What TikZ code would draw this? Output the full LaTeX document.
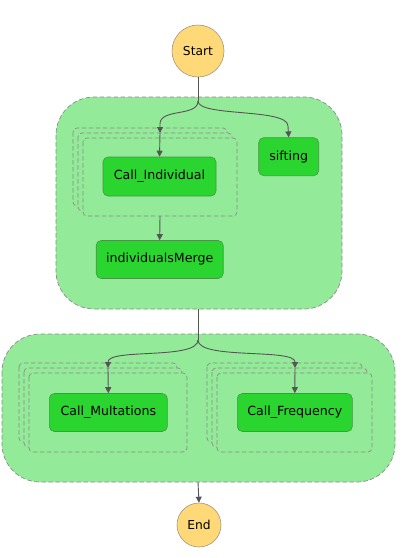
\documentclass[tikz,border=0pt]{standalone}
\usepackage{fontspec}
\setmainfont{DejaVu Sans}
\usetikzlibrary{arrows.meta}
\definecolor{contfill}{RGB}{147,234,152}
\definecolor{taskfill}{RGB}{42,213,48}
\definecolor{taskdraw}{RGB}{70,150,70}
\definecolor{termfill}{RGB}{255,217,120}
\definecolor{termdraw}{RGB}{160,150,130}
\definecolor{dashgray}{RGB}{140,140,140}
\definecolor{linegray}{RGB}{85,85,85}
\tikzset{
  container/.style={draw=dashgray, fill=contfill, dash pattern=on 4.5pt off 2.5pt, line width=0.7pt, rounded corners=38pt},
  mapframe/.style={draw=dashgray, fill=contfill, dash pattern=on 4.5pt off 2.5pt, line width=0.7pt, rounded corners=4pt},
  task/.style={draw=taskdraw, fill=taskfill, rounded corners=5pt, line width=0.6pt, font=\fontsize{12.6}{14}\selectfont, inner sep=0pt},
  term/.style={circle, draw=termdraw, fill=termfill, line width=0.6pt, font=\fontsize{12.3}{14}\selectfont, inner sep=0pt},
  conn/.style={draw=linegray, line width=0.9pt},
  arr/.style={conn, -{Triangle[length=6pt,width=6pt]}},
}
\begin{document}
\begin{tikzpicture}[x=1pt,y=-1pt]
\useasboundingbox (0,0) rectangle (402,558);
% upper parallel container
\draw[container] (56,97) rectangle (342,309);
\coordinate (uptop) at (198,97);
\coordinate (upbot) at (198,309);
% map frames upper
\draw[mapframe] (73,128) rectangle (227,206);
\draw[mapframe] (78,133) rectangle (232,211);
\draw[mapframe] (83,138) rectangle (237,216);
\coordinate (m1top) at (160,133);
\coordinate (m1bot) at (160,216);
% lower parallel container
\draw[container] (2,334) rectangle (395,482);
\coordinate (lotop) at (198,334);
\coordinate (lobot) at (198,482);
\draw[mapframe] (19,363) rectangle (177,442);
\draw[mapframe] (24,368) rectangle (182,447);
\draw[mapframe] (29,373) rectangle (187,452);
\draw[mapframe] (207,363) rectangle (362,442);
\draw[mapframe] (212,368) rectangle (367,447);
\draw[mapframe] (217,373) rectangle (372,452);
\coordinate (m2top) at (108,368);
\coordinate (m3top) at (295,368);

\node[term, minimum size=52pt] (start) at (198,51) {Start};
\node[term, minimum size=44pt] (end) at (199,525) {End};
\node[task, minimum width=113pt, minimum height=39pt] (ci) at (159.5,176.5) {Call\_Individual};
\node[task, minimum width=60pt, minimum height=38pt] (sift) at (288.7,156.7) {sifting};
\node[task, minimum width=127pt, minimum height=38pt] (im) at (159.7,259.5) {individualsMerge};
\node[task, minimum width=118pt, minimum height=38pt] (cm) at (108.3,412.5) {Call\_Multations};
\node[task, minimum width=115pt, minimum height=38pt] (cf) at (294.8,412.5) {Call\_Frequency};

\coordinate (f1) at (198,101);
\draw[conn] (start.south) -- (f1);
\draw[arr] (f1) .. controls (198,117) and (160,108) .. (160,124) -- (m1top);
\draw[arr] (m1top) -- (ci.north);
\draw[arr] (f1) .. controls (198,117) and (288,108) .. (288,126) -- (sift.north);
\draw[arr] (m1bot) -- (im.north);
\draw[conn] (upbot) -- (lotop);
\coordinate (f2) at (198,340);
\draw[conn] (lotop) -- (f2);
\draw[arr] (f2) .. controls (198,360) and (108,348) .. (108,362) -- (m2top);
\draw[arr] (m2top) -- (cm.north);
\draw[arr] (f2) .. controls (198,360) and (295,348) .. (295,362) -- (m3top);
\draw[arr] (m3top) -- (cf.north);
\draw[arr] (lobot) -- (end.north);
\end{tikzpicture}
\end{document}
